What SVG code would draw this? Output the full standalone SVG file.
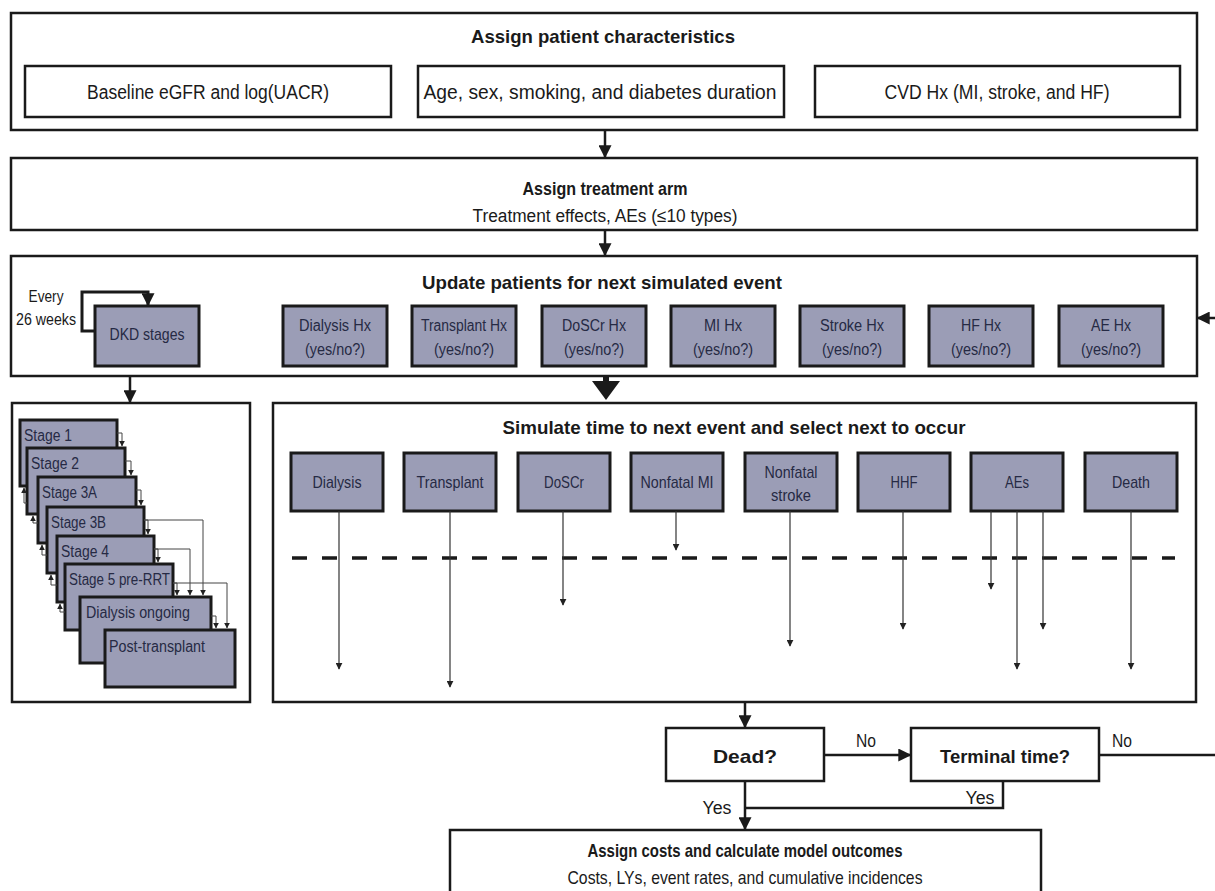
<svg xmlns="http://www.w3.org/2000/svg" width="1215" height="891" viewBox="0 0 1215 891">
<defs>
<marker id="ah" viewBox="0 0 10 10" refX="9" refY="5" markerWidth="13" markerHeight="13" markerUnits="userSpaceOnUse" orient="auto"><path d="M0,0 L10,5 L0,10 z" fill="#1a1a1a"/></marker>
<marker id="sh" viewBox="0 0 10 10" refX="9" refY="5" markerWidth="7" markerHeight="7" markerUnits="userSpaceOnUse" orient="auto"><path d="M0,0 L10,5 L0,10 z" fill="#222"/></marker>
<marker id="th" viewBox="0 0 10 10" refX="9" refY="5" markerWidth="6" markerHeight="6" markerUnits="userSpaceOnUse" orient="auto"><path d="M0,0 L10,5 L0,10 z" fill="#222"/></marker>
</defs>
<style>
.box{fill:#fff;stroke:#1a1a1a;stroke-width:2.5}
.gbox{fill:#9b9db6;stroke:#1a1a1a;stroke-width:3}
.t{font-family:"Liberation Sans",Arial,sans-serif;fill:#1a1a1a}
.b{font-weight:bold}
.c{text-anchor:middle}
.g{fill:#262a44}
.main{fill:none;stroke:#1a1a1a;stroke-width:2.5}
.thin{fill:none;stroke:#333;stroke-width:1.2}
.st{fill:none;stroke:#444;stroke-width:1}
</style>
<rect width="1215" height="891" fill="#fff"/>

<g id="patient-characteristics">
<rect class="box" x="11" y="13" width="1186" height="117"/>
<text class="t b c" x="603" y="43" font-size="19" textLength="264" lengthAdjust="spacingAndGlyphs">Assign patient characteristics</text>
<rect class="box" x="25" y="66" width="366" height="51"/>
<text class="t c" x="208" y="99" font-size="20" textLength="242" lengthAdjust="spacingAndGlyphs">Baseline eGFR and log(UACR)</text>
<rect class="box" x="418" y="66" width="366" height="51"/>
<text class="t c" x="600" y="99" font-size="20" textLength="353" lengthAdjust="spacingAndGlyphs">Age, sex, smoking, and diabetes duration</text>
<rect class="box" x="815" y="66" width="365" height="51"/>
<text class="t c" x="997" y="99" font-size="20" textLength="225" lengthAdjust="spacingAndGlyphs">CVD Hx (MI, stroke, and HF)</text>
</g>

<g id="treatment-arm">
<rect class="box" x="11" y="158" width="1186" height="72"/>
<text class="t b c" x="605" y="195" font-size="19" textLength="165" lengthAdjust="spacingAndGlyphs">Assign treatment arm</text>
<text class="t c" x="605" y="222" font-size="18" textLength="265" lengthAdjust="spacingAndGlyphs">Treatment effects, AEs (≤10 types)</text>
</g>

<g id="update-patients">
<rect class="box" x="11" y="256" width="1186" height="120"/>
<text class="t b c" x="602" y="289" font-size="19" textLength="360" lengthAdjust="spacingAndGlyphs">Update patients for next simulated event</text>
<text class="t c" x="46" y="302" font-size="16" textLength="35" lengthAdjust="spacingAndGlyphs">Every</text>
<text class="t c" x="46" y="325" font-size="16" textLength="60" lengthAdjust="spacingAndGlyphs">26 weeks</text>
</g>

<g id="dkd-stages">
<rect class="gbox" x="95" y="306" width="104" height="60"/>
<text class="t g c" x="147" y="340" font-size="17" textLength="75" lengthAdjust="spacingAndGlyphs">DKD stages</text>
</g>
<g id="dialysis-hx">
<rect class="gbox" x="283" y="306" width="104" height="60"/>
<text class="t g c" x="335" y="331" font-size="16" textLength="72" lengthAdjust="spacingAndGlyphs">Dialysis Hx</text>
<text class="t g c" x="335" y="355" font-size="16" textLength="60" lengthAdjust="spacingAndGlyphs">(yes/no?)</text>
</g>
<g id="transplant-hx">
<rect class="gbox" x="412" y="306" width="104" height="60"/>
<text class="t g c" x="464" y="331" font-size="16" textLength="86" lengthAdjust="spacingAndGlyphs">Transplant Hx</text>
<text class="t g c" x="464" y="355" font-size="16" textLength="60" lengthAdjust="spacingAndGlyphs">(yes/no?)</text>
</g>
<g id="doscr-hx">
<rect class="gbox" x="542" y="306" width="104" height="60"/>
<text class="t g c" x="594" y="331" font-size="16" textLength="64" lengthAdjust="spacingAndGlyphs">DoSCr Hx</text>
<text class="t g c" x="594" y="355" font-size="16" textLength="60" lengthAdjust="spacingAndGlyphs">(yes/no?)</text>
</g>
<g id="mi-hx">
<rect class="gbox" x="671" y="306" width="104" height="60"/>
<text class="t g c" x="723" y="331" font-size="16" textLength="38" lengthAdjust="spacingAndGlyphs">MI Hx</text>
<text class="t g c" x="723" y="355" font-size="16" textLength="60" lengthAdjust="spacingAndGlyphs">(yes/no?)</text>
</g>
<g id="stroke-hx">
<rect class="gbox" x="800" y="306" width="104" height="60"/>
<text class="t g c" x="852" y="331" font-size="16" textLength="64" lengthAdjust="spacingAndGlyphs">Stroke Hx</text>
<text class="t g c" x="852" y="355" font-size="16" textLength="60" lengthAdjust="spacingAndGlyphs">(yes/no?)</text>
</g>
<g id="hf-hx">
<rect class="gbox" x="929" y="306" width="104" height="60"/>
<text class="t g c" x="981" y="331" font-size="16" textLength="40" lengthAdjust="spacingAndGlyphs">HF Hx</text>
<text class="t g c" x="981" y="355" font-size="16" textLength="60" lengthAdjust="spacingAndGlyphs">(yes/no?)</text>
</g>
<g id="ae-hx">
<rect class="gbox" x="1059" y="306" width="104" height="60"/>
<text class="t g c" x="1111" y="331" font-size="16" textLength="40" lengthAdjust="spacingAndGlyphs">AE Hx</text>
<text class="t g c" x="1111" y="355" font-size="16" textLength="60" lengthAdjust="spacingAndGlyphs">(yes/no?)</text>
</g>

<g id="stages-panel">
<rect class="box" x="12" y="403" width="238" height="299"/>
</g>
<g id="stage-1"><rect class="gbox" x="20" y="420" width="97" height="66"/><text class="t g" x="24" y="441" font-size="16" textLength="48" lengthAdjust="spacingAndGlyphs">Stage 1</text></g>
<g id="stage-2"><rect class="gbox" x="27" y="448" width="98" height="66"/><text class="t g" x="31" y="469" font-size="16" textLength="48" lengthAdjust="spacingAndGlyphs">Stage 2</text></g>
<g id="stage-3a"><rect class="gbox" x="38" y="477" width="98" height="66"/><text class="t g" x="42" y="498" font-size="16" textLength="55" lengthAdjust="spacingAndGlyphs">Stage 3A</text></g>
<g id="stage-3b"><rect class="gbox" x="47" y="507" width="97" height="66"/><text class="t g" x="51" y="528" font-size="16" textLength="55" lengthAdjust="spacingAndGlyphs">Stage 3B</text></g>
<g id="stage-4"><rect class="gbox" x="57" y="536" width="97" height="66"/><text class="t g" x="61" y="557" font-size="16" textLength="48" lengthAdjust="spacingAndGlyphs">Stage 4</text></g>
<g id="stage-5"><rect class="gbox" x="65" y="564" width="108" height="66"/><text class="t g" x="69" y="585" font-size="16" textLength="101" lengthAdjust="spacingAndGlyphs">Stage 5 pre-RRT</text></g>
<g id="dialysis-ongoing"><rect class="gbox" x="80" y="597" width="131" height="66"/><text class="t g" x="86" y="618" font-size="16" textLength="104" lengthAdjust="spacingAndGlyphs">Dialysis ongoing</text></g>
<g id="post-transplant"><rect class="gbox" x="105" y="630" width="130" height="57"/><text class="t g" x="109" y="652" font-size="16" textLength="96" lengthAdjust="spacingAndGlyphs">Post-transplant</text></g>

<g id="simulate-panel">
<rect class="box" x="273" y="403" width="923" height="299"/>
<text class="t b c" x="734" y="434" font-size="19" textLength="463" lengthAdjust="spacingAndGlyphs">Simulate time to next event and select next to occur</text>
<line x1="292" y1="558" x2="1175" y2="558" stroke="#1a1a1a" stroke-width="3.5" stroke-dasharray="15 15"/>
</g>
<g id="ev-dialysis"><rect class="gbox" x="291" y="453" width="92" height="58"/><text class="t g c" x="337" y="488" font-size="17" textLength="49" lengthAdjust="spacingAndGlyphs">Dialysis</text></g>
<g id="ev-transplant"><rect class="gbox" x="404" y="453" width="92" height="58"/><text class="t g c" x="450" y="488" font-size="17" textLength="67" lengthAdjust="spacingAndGlyphs">Transplant</text></g>
<g id="ev-doscr"><rect class="gbox" x="518" y="453" width="92" height="58"/><text class="t g c" x="564" y="488" font-size="17" textLength="40" lengthAdjust="spacingAndGlyphs">DoSCr</text></g>
<g id="ev-mi"><rect class="gbox" x="631" y="453" width="92" height="58"/><text class="t g c" x="677" y="488" font-size="17" textLength="73" lengthAdjust="spacingAndGlyphs">Nonfatal MI</text></g>
<g id="ev-stroke"><rect class="gbox" x="745" y="453" width="92" height="58"/><text class="t g c" x="791" y="478" font-size="17" textLength="53" lengthAdjust="spacingAndGlyphs">Nonfatal</text><text class="t g c" x="791" y="501" font-size="17" textLength="40" lengthAdjust="spacingAndGlyphs">stroke</text></g>
<g id="ev-hhf"><rect class="gbox" x="858" y="453" width="92" height="58"/><text class="t g c" x="904" y="488" font-size="17" textLength="27" lengthAdjust="spacingAndGlyphs">HHF</text></g>
<g id="ev-aes"><rect class="gbox" x="971" y="453" width="92" height="58"/><text class="t g c" x="1017" y="488" font-size="17" textLength="24" lengthAdjust="spacingAndGlyphs">AEs</text></g>
<g id="ev-death"><rect class="gbox" x="1085" y="453" width="92" height="58"/><text class="t g c" x="1131" y="488" font-size="17" textLength="38" lengthAdjust="spacingAndGlyphs">Death</text></g>

<g id="dead">
<rect class="box" x="666" y="728" width="158" height="53"/>
<text class="t b c" x="745" y="763" font-size="19" textLength="64" lengthAdjust="spacingAndGlyphs">Dead?</text>
</g>
<g id="terminal-time">
<rect class="box" x="911" y="728" width="188" height="53"/>
<text class="t b c" x="1005" y="763" font-size="19" textLength="130" lengthAdjust="spacingAndGlyphs">Terminal time?</text>
</g>
<g id="outcomes">
<rect class="box" x="450" y="830" width="591" height="80"/>
<text class="t b c" x="745" y="857" font-size="19" textLength="315" lengthAdjust="spacingAndGlyphs">Assign costs and calculate model outcomes</text>
<text class="t c" x="745" y="884" font-size="19" textLength="355" lengthAdjust="spacingAndGlyphs">Costs, LYs, event rates, and cumulative incidences</text>
</g>

<g id="connectors">
<line class="main" x1="605" y1="130" x2="605" y2="157" marker-end="url(#ah)"/>
<line class="main" x1="605" y1="230" x2="605" y2="255" marker-end="url(#ah)"/>
<rect x="603" y="376" width="6" height="6" fill="#1a1a1a"/>
<polygon points="592,381 620,381 606,400" fill="#1a1a1a"/>
<line class="main" x1="130" y1="376" x2="130" y2="402" marker-end="url(#ah)"/>
<line class="main" x1="1215" y1="318" x2="1198" y2="318" marker-end="url(#ah)"/>
<polyline points="95,331 82,331 82,292 148,292 148,305" fill="none" stroke="#1a1a1a" stroke-width="3" marker-end="url(#ah)"/>

<line class="thin" x1="339" y1="511" x2="339" y2="669" marker-end="url(#sh)"/>
<line class="thin" x1="450" y1="511" x2="450" y2="687" marker-end="url(#sh)"/>
<line class="thin" x1="563" y1="511" x2="563" y2="605" marker-end="url(#sh)"/>
<line class="thin" x1="676" y1="511" x2="676" y2="550" marker-end="url(#sh)"/>
<line class="thin" x1="790" y1="511" x2="790" y2="646" marker-end="url(#sh)"/>
<line class="thin" x1="903" y1="511" x2="903" y2="629" marker-end="url(#sh)"/>
<line class="thin" x1="991" y1="511" x2="991" y2="589" marker-end="url(#sh)"/>
<line class="thin" x1="1017" y1="511" x2="1017" y2="669" marker-end="url(#sh)"/>
<line class="thin" x1="1043" y1="511" x2="1043" y2="629" marker-end="url(#sh)"/>
<line class="thin" x1="1131" y1="511" x2="1131" y2="669" marker-end="url(#sh)"/>

<polyline class="st" points="117,433 122,433 122,446" marker-end="url(#th)"/>
<polyline class="st" points="125,461 131,461 131,475" marker-end="url(#th)"/>
<polyline class="st" points="136,490 141,490 141,505" marker-end="url(#th)"/>
<polyline class="st" points="144,520 148,520 148,534" marker-end="url(#th)"/>
<polyline class="st" points="154,549 158,549 158,562" marker-end="url(#th)"/>
<polyline class="st" points="173,583 177,583 177,595" marker-end="url(#th)"/>
<polyline class="st" points="144,520 203,520 203,595" marker-end="url(#th)"/>
<polyline class="st" points="154,549 190,549 190,595" marker-end="url(#th)"/>
<polyline class="st" points="173,583 227,583 227,628" marker-end="url(#th)"/>
<polyline class="st" points="211,616 216,616 216,628" marker-end="url(#th)"/>
<polyline class="st" points="27,503 24,503 24,488" marker-end="url(#th)"/>
<polyline class="st" points="38,523 33,523 33,516" marker-end="url(#th)"/>
<polyline class="st" points="47,555 42,555 42,545" marker-end="url(#th)"/>
<polyline class="st" points="57,585 51,585 51,575" marker-end="url(#th)"/>
<polyline class="st" points="65,612 60,612 60,604" marker-end="url(#th)"/>

<line class="main" x1="745" y1="702" x2="745" y2="727" marker-end="url(#ah)"/>
<line class="main" x1="824" y1="755" x2="910" y2="755" marker-end="url(#ah)"/>
<line class="main" x1="1099" y1="755" x2="1215" y2="755"/>
<line class="main" x1="745" y1="781" x2="745" y2="829" marker-end="url(#ah)"/>
<polyline class="main" points="1003,781 1003,808 745,808"/>
<text class="t c" x="866" y="747" font-size="18" textLength="20" lengthAdjust="spacingAndGlyphs">No</text>
<text class="t c" x="1122" y="747" font-size="18" textLength="20" lengthAdjust="spacingAndGlyphs">No</text>
<text class="t c" x="980" y="804" font-size="18" textLength="29" lengthAdjust="spacingAndGlyphs">Yes</text>
<text class="t c" x="717" y="814" font-size="18" textLength="29" lengthAdjust="spacingAndGlyphs">Yes</text>
</g>
</svg>
